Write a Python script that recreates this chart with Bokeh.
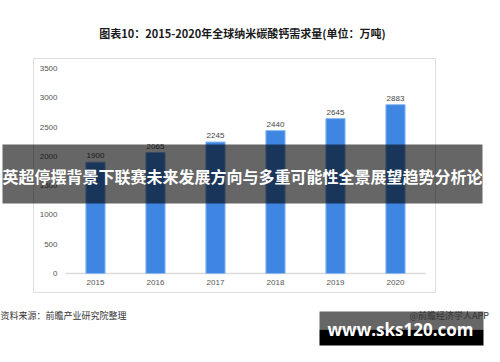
from bokeh.plotting import figure
from bokeh.models import Range1d, ColumnDataSource, LinearScale
from bokeh.core.properties import value
from bokeh.embed import file_html
from bokeh.resources import INLINE

years = ["2015", "2016", "2017", "2018", "2019", "2020"]
demand = [1900, 2065, 2245, 2440, 2645, 2883]
y_ticks = [0, 500, 1000, 1500, 2000, 2500, 3000, 3500]
y_max = 3500

title_text = "图表10：2015-2020年全球纳米碳酸钙需求量(单位：万吨)"
banner_text = "英超停摆背景下联赛未来发展方向与多重可能性全景展望趋势分析论"
source_text = "资料来源：前瞻产业研究院整理"
credit_text = "@前瞻经济学人APP"
site_text = "www.sks120.com"

CJK = "Noto Sans CJK SC"
NUM = "Liberation Sans"

# canvas geometry (pixels) for the plotting area
W, H = 492, 354
X0, STEP = 95, 60        # centre of first category, spacing between categories
YB, YT = 273, 68         # pixel rows of value 0 and value y_max

upp = y_max / (YB - YT)  # data units per pixel (vertical)
idx = list(range(len(years)))

p = figure(width=W, height=H,
           x_range=Range1d(-X0 / STEP, (W - X0) / STEP),
           y_range=Range1d(-(H - YB) * upp, y_max + YT * upp),
           output_backend="svg", toolbar_location=None,
           min_border=0, min_border_left=0, min_border_right=0,
           min_border_top=0, min_border_bottom=0)
p.extra_x_ranges = {"px": Range1d(0, W)}
p.extra_y_ranges = {"px": Range1d(H, 0)}
p.extra_x_scales = {"px": LinearScale()}
p.extra_y_scales = {"px": LinearScale()}
p.axis.visible = False
p.grid.visible = False
p.outline_line_color = None
p.background_fill_color = "white"
p.border_fill_color = "white"

PX = dict(x_range_name="px", y_range_name="px")

# outer chart frame
p.quad(left=[33], right=[435], top=[58], bottom=[292], fill_alpha=0,
       line_color="#dddddd", line_width=1, **PX)

# title
p.text(x=[242], y=[32], text=[title_text], text_align="center", text_baseline="middle",
       text_font=value(CJK), text_font_size="11px", text_font_style="bold",
       text_color="#1a1a1a", **PX)

# axis line and tick labels
p.segment(x0=[-0.5], x1=[len(years) - 0.5], y0=[0], y1=[0],
          line_color="#d9d9d9", line_width=1.5)
p.text(x=[57] * len(y_ticks), y=y_ticks, text=[str(t) for t in y_ticks],
       text_align="right", text_baseline="middle", text_font=value(NUM),
       text_font_size="8px", text_color="#555555", x_range_name="px")
p.text(x=idx, y=[282] * len(years), text=years, text_align="center",
       text_baseline="middle", text_font=value(NUM), text_font_size="8px",
       text_color="#555555", y_range_name="px")

# bars and value labels
src = ColumnDataSource(dict(x=idx, y=demand, t=[str(v) for v in demand]))
p.vbar(x="x", top="y", width=0.32, bottom=0, source=src,
       fill_color="#3f86e2", line_color="#8dbaf0", line_width=1)
p.text(x="x", y="y", text="t", source=src, text_align="center",
       text_baseline="bottom", y_offset=-4, text_font=value(NUM),
       text_font_size="8px", text_color="#444444")

# dark banner overlay
p.quad(left=[2], right=[482], top=[144], bottom=[203], fill_color="black",
       fill_alpha=0.6, line_color=None, **PX)
p.text(x=[242], y=[175], text=[banner_text], text_align="center", text_baseline="middle",
       text_font=value(CJK), text_font_size="16px", text_font_style="bold",
       text_color="white", **PX)

# source
p.text(x=[0], y=[315], text=[source_text], text_align="left", text_baseline="middle",
       text_font=value(CJK), text_font_size="9px", text_color="#333333", **PX)

# site badge
p.quad(left=[319], right=[483], top=[311], bottom=[329], fill_color="#666666",
       line_color=None, **PX)
p.quad(left=[319], right=[483], top=[329], bottom=[345], fill_color="black",
       line_color=None, **PX)
p.text(x=[409], y=[315], text=[credit_text], text_align="left", text_baseline="middle",
       text_font=value(CJK), text_font_size="9px", text_color="#333333", **PX)
p.text(x=[400], y=[329], text=[site_text], text_align="center", text_baseline="middle",
       text_font=value("Open Sans"), text_font_size="17px", text_font_style="bold",
       text_color="white", **PX)

open("out.html", "w").write(file_html(p, INLINE))
